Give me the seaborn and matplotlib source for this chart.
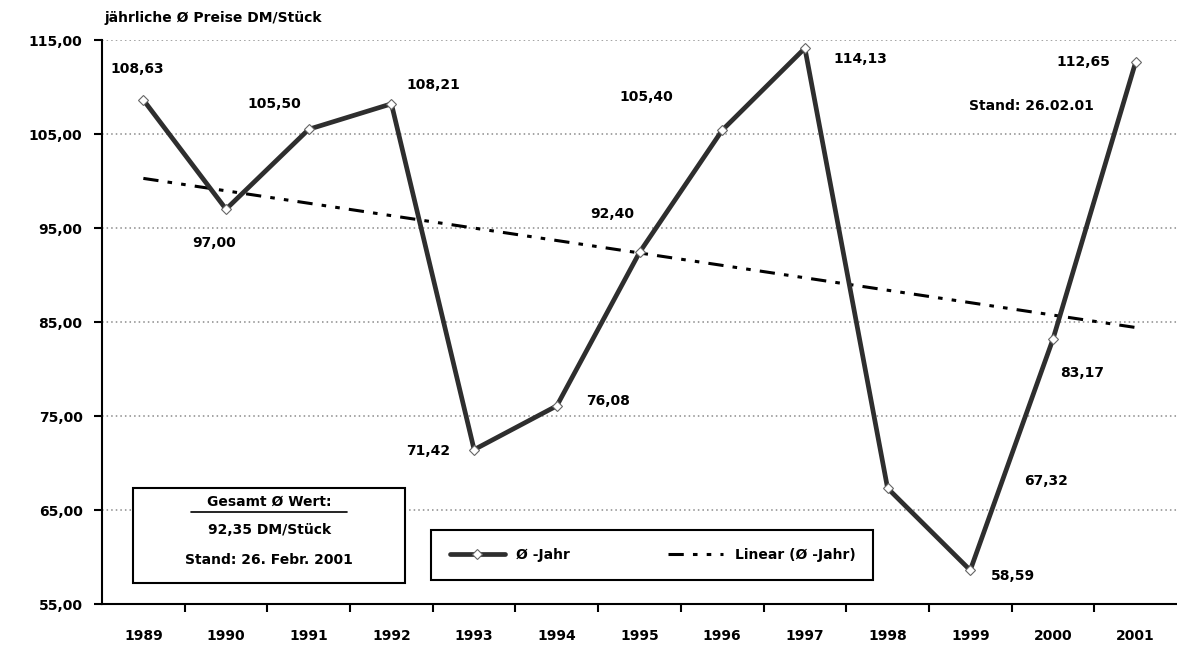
import matplotlib
matplotlib.use("Agg")
import matplotlib.pyplot as plt
import numpy as np
import pandas as pd
import seaborn as sns
from matplotlib.patches import Rectangle

# data
years = ["1989", "1990", "1991", "1992", "1993", "1994", "1995",
         "1996", "1997", "1998", "1999", "2000", "2001"]
prices = [108.63, 97.00, 105.50, 108.21, 71.42, 76.08, 92.40,
          105.40, 114.13, 67.32, 58.59, 83.17, 112.65]
y_ticks = [55, 65, 75, 85, 95, 105, 115]

# label offsets in pixels (dx, dy) relative to each point
label_offsets = [(-6, 31), (-12, -34), (-34, 25), (42, 19), (-46, -1), (51, 5),
                 (-27, 38), (-76, 33), (55, -11), (158, 7), (43, -6), (29, -34), (-52, 0)]

sns.set_style("white")
plt.rcParams["font.family"] = ["DejaVu Sans"]
plt.rcParams["font.weight"] = "bold"
plt.rcParams["text.color"] = "black"
plt.rcParams["xtick.color"] = "black"
plt.rcParams["ytick.color"] = "black"

df = pd.DataFrame({"idx": np.arange(len(years)), "price": prices})

fig = plt.figure(figsize=(11.77, 6.48), dpi=100)
ax = fig.add_axes([102 / 1177, 44 / 648, 1 - 102 / 1177, 1 - 84 / 648])

ax.set_xlim(-0.5, len(years) - 0.5)
ax.set_ylim(55, 115)
for v in y_ticks[1:]:
    ax.axhline(v, color="#8a8a8a", lw=1.1, ls=(0, (1, 2)), zorder=1)

sns.regplot(data=df, x="idx", y="price", scatter=False, ci=None, ax=ax,
            label="Linear (Ø -Jahr)",
            line_kws=dict(color="black", lw=2.2, ls=(0, (5, 3, 1.5, 3, 1.5, 3)),
                          zorder=3))
sns.lineplot(data=df, x="idx", y="price", ax=ax, color="#2e2e2e", lw=3.4,
             marker="D", markersize=5, markerfacecolor="white",
             markeredgecolor="#666666", markeredgewidth=0.8,
             label="Ø -Jahr", zorder=4)

txt = dict(fontsize=10, fontweight="bold", color="black", ha="center", va="center")
for i, (v, (dx, dy)) in enumerate(zip(prices, label_offsets)):
    ax.annotate(f"{v:.2f}".replace(".", ","), xy=(i, v), xytext=(dx, dy),
                textcoords="offset pixels", zorder=6, **txt)

ax.set_yticks(y_ticks)
ax.set_yticklabels([f"{v:.2f}".replace(".", ",") for v in y_ticks],
                   fontsize=10, fontweight="bold")
ax.set_xticks(np.arange(len(years) - 1) + 0.5)
ax.set_xticklabels([])
ax.set_xticks(np.arange(len(years)), minor=True)
ax.set_xticklabels(years, minor=True, fontsize=10, fontweight="bold")
ax.tick_params(axis="x", which="major", direction="out", length=6, width=1.5, bottom=True)
ax.tick_params(axis="x", which="minor", length=0, pad=18)
ax.tick_params(axis="y", direction="out", length=6, width=1.5, pad=8, left=True)
ax.set_xlabel("")
ax.set_ylabel("")

for s in ["top", "right"]:
    ax.spines[s].set_visible(False)
for s in ["left", "bottom"]:
    ax.spines[s].set_color("black")
    ax.spines[s].set_linewidth(1.5)

fig.text(105 / 1177, 1 - 18 / 648, "jährliche Ø Preise DM/Stück",
         fontsize=10, fontweight="bold", ha="left", va="center")
ax.text(0.865, 0.883, "Stand: 26.02.01", transform=ax.transAxes, **txt)

# info box lower left
ax.add_patch(Rectangle((0.029, 0.037), 0.253, 0.169, transform=ax.transAxes,
                       facecolor="white", edgecolor="black", lw=1.5, zorder=5))
ax.text(0.1555, 0.181, "Gesamt Ø Wert:", transform=ax.transAxes, zorder=6, **txt)
ax.plot([0.083, 0.228], [0.163, 0.163], transform=ax.transAxes, color="black",
        lw=1.2, zorder=6)
ax.text(0.1555, 0.131, "92,35 DM/Stück", transform=ax.transAxes, zorder=6, **txt)
ax.text(0.1555, 0.078, "Stand: 26. Febr. 2001", transform=ax.transAxes, zorder=6, **txt)

handles, labels = ax.get_legend_handles_labels()
order = [labels.index("Ø -Jahr"), labels.index("Linear (Ø -Jahr)")]
leg = ax.legend([handles[k] for k in order], [labels[k] for k in order],
                loc="center", bbox_to_anchor=(0.3, 0.037, 0.424, 0.1),
                mode="expand", ncol=2, fancybox=False, framealpha=1,
                edgecolor="black", handlelength=4, columnspacing=2,
                borderpad=1.3, prop=dict(size=10, weight="bold"))
leg.get_frame().set_linewidth(1.5)
leg.set_zorder(6)

fig.savefig("out.png", dpi=100)
